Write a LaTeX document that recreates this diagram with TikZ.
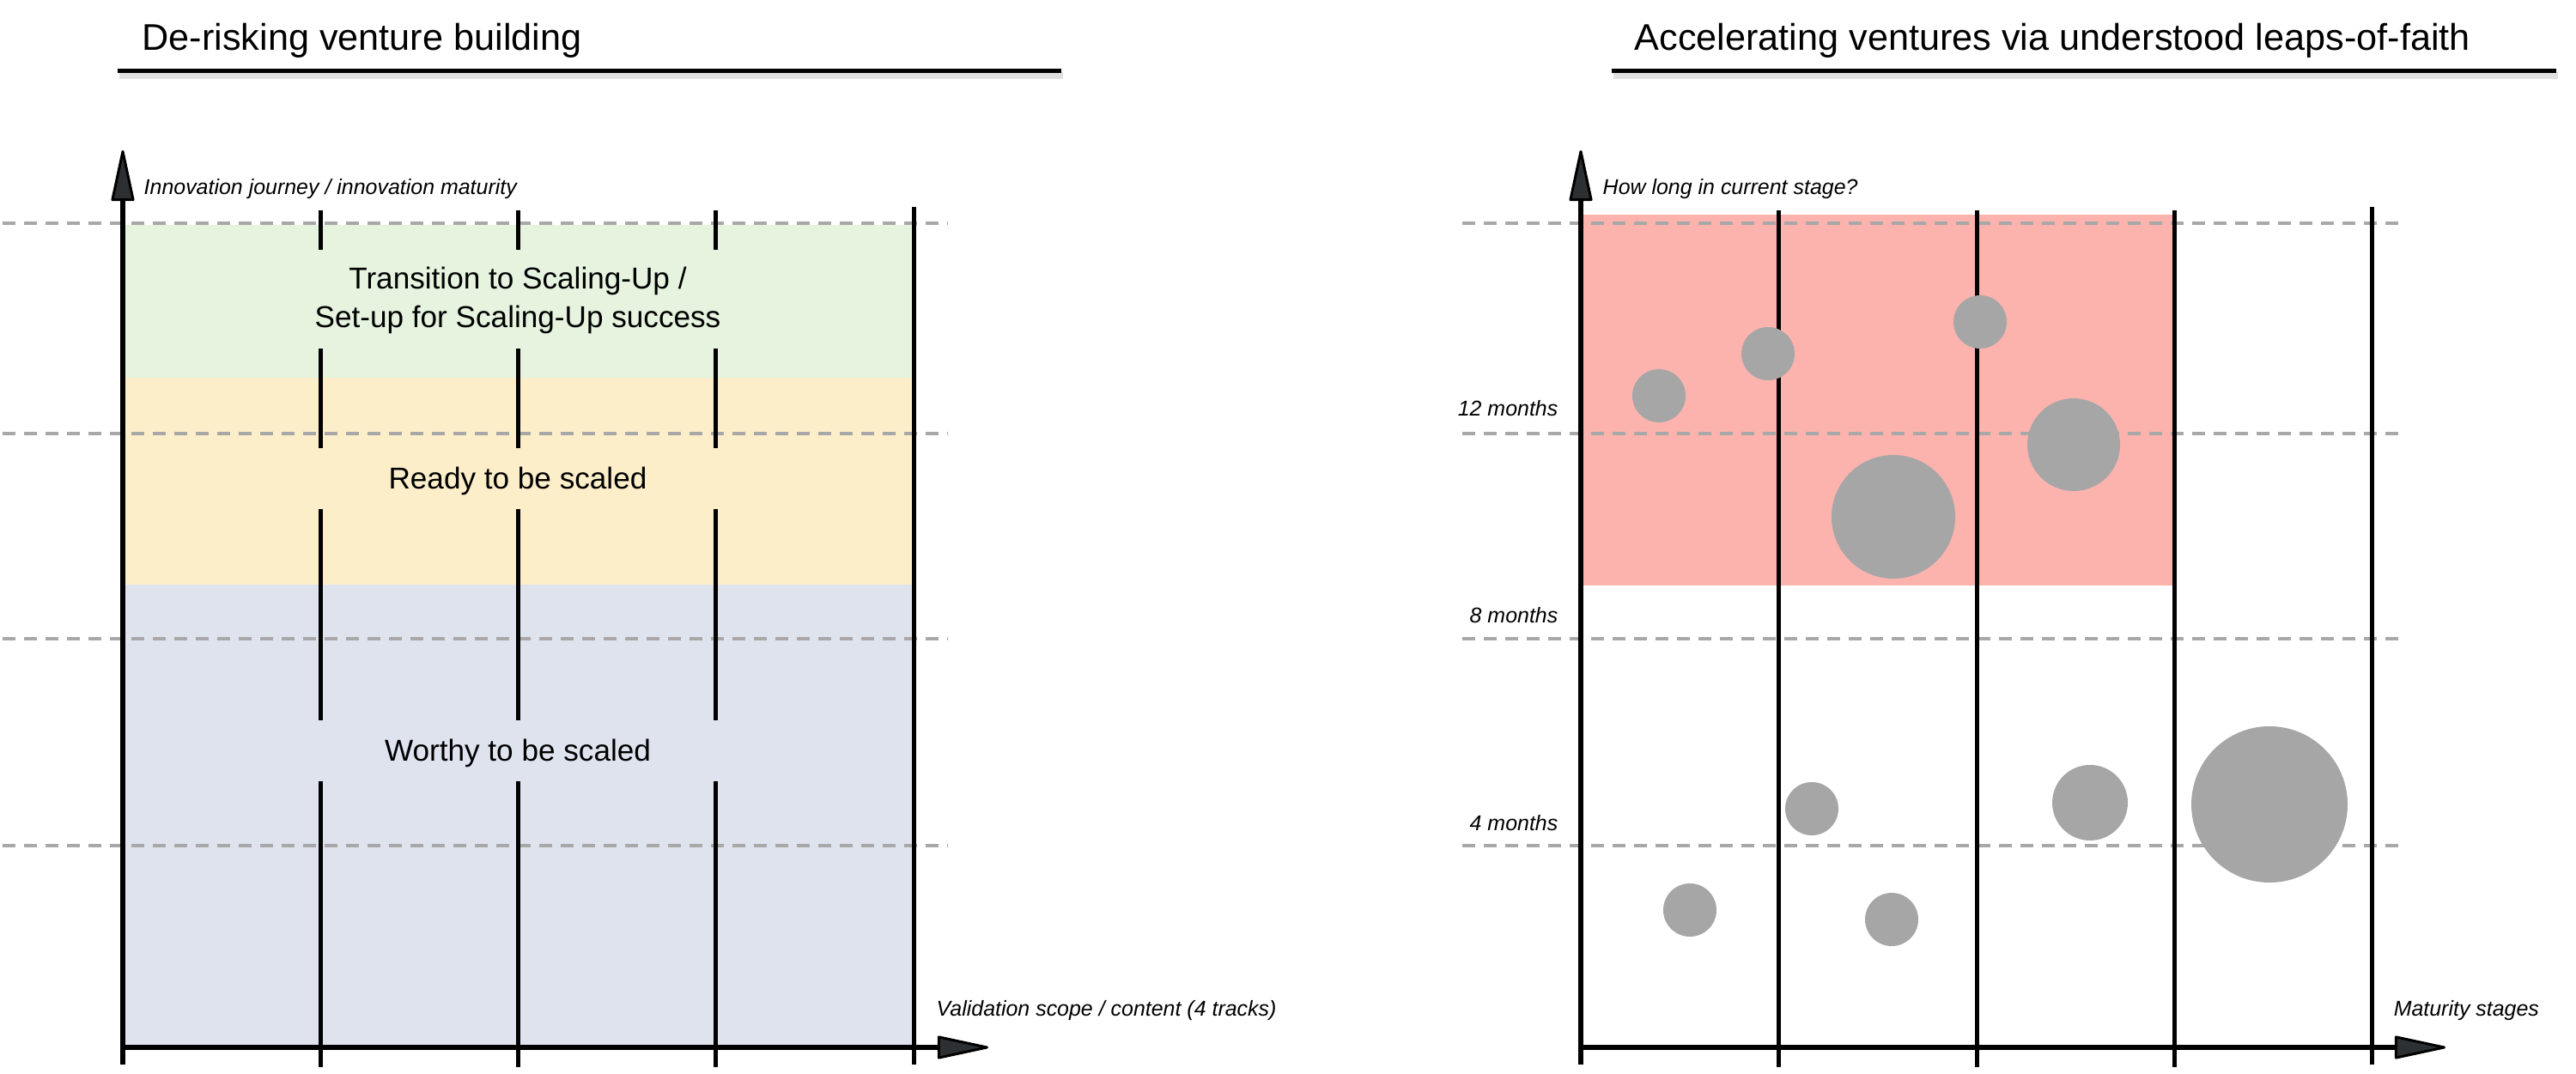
\documentclass[tikz,border=0pt]{standalone}
\usepackage{fontspec}
\setmainfont{Liberation Sans}
\usepackage{tikz}
\usetikzlibrary{arrows.meta}
\definecolor{figline}{RGB}{0,0,0}
\definecolor{figdash}{RGB}{168,168,168}
\definecolor{figtip}{RGB}{45,48,51}
\definecolor{bandgreen}{RGB}{229,243,223}
\definecolor{bandyellow}{RGB}{253,238,202}
\definecolor{bandblue}{RGB}{223,227,238}
\definecolor{riskred}{RGB}{252,179,174}
\definecolor{bubgray}{RGB}{166,166,166}
\tikzset{
  vl/.style   ={draw=figline, line width=0.05cm},
  gl/.style   ={draw=figdash, line width=0.035cm, dash pattern=on 0.15cm off 0.10cm},
  ax/.style   ={draw=figline, line width=0.06cm, -{Triangle[length=0.65cm,width=0.27cm,line width=0.03cm,fill=figtip,round]}},
  ttl/.style  ={font=\fontsize{12.3}{14}\selectfont, inner sep=0pt, anchor=base west},
  lab/.style  ={font=\fontsize{7.1}{8.5}\selectfont\itshape, inner sep=0pt},
  band/.style ={font=\fontsize{10}{12.8}\selectfont, inner sep=0pt, align=center},
  bub/.style  ={fill=bubgray},
}
\begin{document}
\begin{tikzpicture}[scale=1]
  \useasboundingbox (0,0) rectangle (30,12.5);
  % left: titles
  \node[ttl] (ttlL) at (1.65,11.91) {De-risking venture building};
  \draw[black!12,line width=0.08cm] (1.39,11.62) -- (12.38,11.62);
  \draw[figline,line width=0.05cm] (1.37,11.67) -- (12.36,11.67);
  % left: bands
  \fill[bandgreen] (1.43,9.88) rectangle (10.64,8.10);
  \fill[bandyellow] (1.43,8.10) rectangle (10.64,5.69);
  \fill[bandblue] (1.43,5.69) rectangle (10.64,0.30);
  \draw[gl] (0.03,9.90) -- (11.04,9.90);
  \draw[gl] (0.03,7.45) -- (11.04,7.45);
  \draw[gl] (0.03,5.06) -- (11.04,5.06);
  \draw[gl] (0.03,2.65) -- (11.04,2.65);
  % left: tracks
  \draw[vl] (3.73,10.05) -- (3.73,9.59);
  \draw[vl] (3.73,8.44) -- (3.73,7.28);
  \draw[vl] (3.73,6.57) -- (3.73,4.11);
  \draw[vl] (3.73,3.40) -- (3.73,0.07);
  \draw[vl] (6.03,10.05) -- (6.03,9.59);
  \draw[vl] (6.03,8.44) -- (6.03,7.28);
  \draw[vl] (6.03,6.57) -- (6.03,4.11);
  \draw[vl] (6.03,3.40) -- (6.03,0.07);
  \draw[vl] (8.33,10.05) -- (8.33,9.59);
  \draw[vl] (8.33,8.44) -- (8.33,7.28);
  \draw[vl] (8.33,6.57) -- (8.33,4.11);
  \draw[vl] (8.33,3.40) -- (8.33,0.07);
  \draw[vl] (10.64,10.09) -- (10.64,0.10);
  \node[band] (bandT) at (6.03,9.00) {Transition to Scaling-Up /\\Set-up for Scaling-Up success};
  \node[band,anchor=base] (bandR) at (6.03,6.80) {Ready to be scaled};
  \node[band,anchor=base] (bandW) at (6.03,3.63) {Worthy to be scaled};
  % left: axes
  \coordinate (bL) at (1.43,0.10);
  \coordinate (oL) at (1.43,0.30);
  \coordinate (yL) at (1.43,10.75);
  \coordinate (xL) at (11.51,0.30);
  \draw[ax] (bL) -- (yL);
  \draw[ax] (oL) -- (xL);
  \node[lab,anchor=base west] (ylabL) at (1.67,10.23) {Innovation journey / innovation maturity};
  \node[lab,anchor=base west] (xlabL) at (10.90,0.67) {Validation scope / content (4 tracks)};
  % right: titles
  \node[ttl] (ttlR) at (19.03,11.91) {Accelerating ventures via understood leaps-of-faith};
  \draw[black!12,line width=0.08cm] (18.79,11.62) -- (29.79,11.62);
  \draw[figline,line width=0.05cm] (18.77,11.67) -- (29.77,11.67);
  % right: risk zone
  \fill[riskred] (18.41,10.00) rectangle (25.32,5.68);
  \draw[gl] (17.03,9.90) -- (28.02,9.90);
  \draw[gl] (17.03,7.45) -- (28.02,7.45);
  \draw[gl] (17.03,5.06) -- (28.02,5.06);
  \draw[gl] (17.03,2.65) -- (28.02,2.65);
  \node[lab,anchor=base east] (m12) at (18.15,7.65) {12 months};
  \node[lab,anchor=base east] (m8) at (18.15,5.24) {8 months};
  \node[lab,anchor=base east] (m4) at (18.15,2.82) {4 months};
  % right: stages
  \draw[vl] (20.71,10.05) -- (20.71,0.07);
  \draw[vl] (23.02,10.05) -- (23.02,0.07);
  \draw[vl] (25.32,10.05) -- (25.32,0.07);
  \draw[vl] (27.62,10.09) -- (27.62,0.10);
  % right: ventures
  \fill[bub] (19.32,7.89) circle (0.31);
  \fill[bub] (20.59,8.38) circle (0.31);
  \fill[bub] (23.06,8.75) circle (0.31);
  \fill[bub] (24.15,7.32) circle (0.54);
  \fill[bub] (22.05,6.48) circle (0.72);
  \fill[bub] (21.10,3.08) circle (0.31);
  \fill[bub] (24.34,3.15) circle (0.44);
  \fill[bub] (26.43,3.13) circle (0.91);
  \fill[bub] (19.68,1.90) circle (0.31);
  \fill[bub] (22.03,1.79) circle (0.31);
  % right: axes
  \coordinate (bR) at (18.41,0.10);
  \coordinate (oR) at (18.41,0.30);
  \coordinate (yR) at (18.41,10.75);
  \coordinate (xR) at (28.48,0.30);
  \draw[ax] (bR) -- (yR);
  \draw[ax] (oR) -- (xR);
  \node[lab,anchor=base west] (ylabR) at (18.66,10.23) {How long in current stage?};
  \node[lab,anchor=base west] (xlabR) at (27.87,0.67) {Maturity stages};
\end{tikzpicture}
\end{document}
